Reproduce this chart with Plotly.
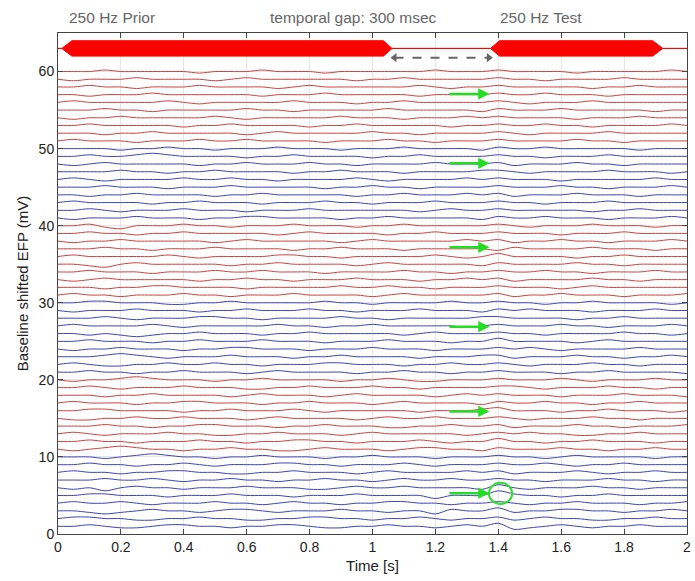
import plotly.graph_objects as go

# ---------------- data ----------------
efp_time = [0.00, 0.05, 0.10, 0.15, 0.20, 0.25, 0.30, 0.35, 0.40, 0.45,
            0.50, 0.55, 0.60, 0.65, 0.70, 0.75, 0.80, 0.85, 0.90, 0.95,
            1.00, 1.05, 1.10, 1.15, 1.20, 1.25, 1.30, 1.35, 1.40, 1.45,
            1.50, 1.55, 1.60, 1.65, 1.70, 1.75, 1.80, 1.85, 1.90, 1.95, 2.00]

dev_step_mv = 0.2  # deviations below are in steps of 0.2 mV

blue_01_10 = [
    [0,0,1,0,-1, -1,0,1,1,0, 0,-1,0,0,1, 1,0,-1,-1,0, 0,1,0,0,-1, 0,1,0,2,-2, -1,0,1,0,-1, 0,0,1,0,0, 0],
    [0,1,1,0,0, -1,-1,0,0,1, 0,0,-1,-1,0, 0,1,1,0,0, -1,0,0,1,0, -1,0,0,1,-1, 0,1,0,0,-1, -1,0,0,1,0, 0],
    [0,0,-1,-2,-1, 0,1,0,0,-1, 0,1,1,0,-1, 0,0,0,1,0, 0,-1,0,0,-2, 1,0,0,2,-1, 0,0,1,1,0, 0,-1,0,0,1, 0],
    [0,1,0,0,1, 0,-1,0,0,0, 1,0,0,-1,0, 1,0,0,-1,0, 0,1,1,0,0, -1,0,0,1,0, -1,0,0,1,0, 0,0,-1,0,0, 1],
    [0,0,1,1,0, 0,0,-1,0,0, 0,1,0,0,0, -1,0,0,0,1, 0,0,0,0,-2, 0,0,0,3,1, 0,0,-1,0,0, 1,0,0,0,0, 0],
    [0,-1,0,-2,0, 1,0,0,-1,0, 0,0,1,0,0, 0,-1,-1,0,1, 0,0,1,0,0, 0,0,-1,2,0, -1,0,0,0,1, 0,0,-1,0,0, 0],
    [0,0,0,1,0, 0,1,0,-1,0, 0,1,0,0,-1, 0,0,1,0,0, -1,0,1,0,0, 1,0,0,1,0, 0,-1,0,0,0, 1,0,0,-1,0, 0],
    [0,1,0,0,-1, 0,0,1,1,0, 0,-1,-1,0,0, 1,0,0,0,-1, 0,1,0,0,0, 0,1,0,1,-1, 0,0,0,1,0, -1,0,0,1,0, 0],
    [0,0,1,0,0, -1,0,0,1,0, -1,0,0,0,1, 1,0,0,-1,0, 0,0,1,0,-1, 0,0,0,1,0, 0,1,0,-1,0, 0,1,0,0,0, 0],
    [0,0,0,-1,0, 1,2,1,0,0, -1,0,0,1,0, 0,0,-1,0,0, 1,0,0,0,-1, 0,0,0,1,0, 0,-1,0,1,0, 0,0,0,-1,0, 0],
]
red_11_20 = [
    [0,-1,0,1,2, 1,0,0,-1,0, 0,1,0,0,-1, -1,0,1,0,0, 0,-1,0,1,1, 0,0,-1,1,0, 0,0,1,0,0, -1,0,0,1,0, 0],
    [0,0,1,0,0, -1,0,0,0,1, 0,0,-1,0,0, 1,1,0,0,-1, 0,0,0,1,0, -1,0,0,2,0, 0,-1,0,0,1, 0,0,0,-1,0, 0],
    [0,1,0,-1,0, 0,0,1,0,0, -1,-1,0,0,1, 0,0,0,-1,0, 1,0,0,0,0, 0,-1,0,1,0, 1,0,0,-1,-1, 0,0,1,0,0, 0],
    [0,0,0,1,0, 0,-1,0,0,1, 1,0,0,0,-1, 0,0,1,0,0, 0,-1,-1,0,0, 1,0,0,1,-1, 0,0,0,1,0, 0,-1,0,0,0, 1],
    [0,-1,-1,0,0, 1,0,0,1,0, 0,0,-1,0,1, 0,0,0,0,-1, 0,1,0,0,1, 0,0,0,1,0, -1,0,0,0,1, 0,0,-1,0,0, 0],
    [0,0,1,1,0, 0,0,0,-1,0, 0,1,0,0,0, 1,0,-1,0,0, 0,0,0,-1,0, 0,0,1,2,0, 0,0,-1,0,0, 1,0,0,0,-1, 0],
    [0,1,0,0,0, -1,0,0,1,1, 0,0,0,-1,0, 0,1,0,0,0, -1,0,1,0,0, 0,0,-1,1,0, 0,1,0,0,-1, 0,0,1,0,0, 0],
    [0,0,0,-1,0, 0,1,0,0,0, 0,-1,0,1,0, 0,0,-1,0,1, 0,0,0,0,-1, 0,1,0,1,0, 0,0,-1,0,0, 0,1,0,0,0, -1],
    [0,0,1,0,-1, 0,0,0,1,0, 0,0,-1,-1,0, 0,1,0,0,0, 1,0,0,-1,0, 0,0,0,1,1, 0,-1,0,0,0, 1,0,0,-1,0, 0],
    [0,-1,0,0,1, 2,1,0,0,0, -1,0,0,1,0, 0,0,0,-1,0, 0,1,0,-1,-1, 0,0,0,1,0, 0,0,1,0,-1, 0,0,0,1,0, 0],
]
blue_21_30 = [
    [0,0,1,0,0, -1,0,0,1,0, 0,0,-1,0,1, 0,0,0,0,-1, 0,0,1,0,0, -1,0,0,1,0, 0,0,-1,0,0, 1,0,0,0,0, -1],
    [0,1,0,-1,-1, 0,0,1,0,0, 1,0,0,-1,0, 0,0,1,1,0, 0,0,-1,0,0, 1,0,0,1,0, -1,0,0,0,1, 0,0,-1,0,0, 0],
    [0,0,0,1,2, 1,0,-1,0,0, 0,1,0,0,0, -1,0,0,1,0, 0,0,0,-1,0, 0,0,1,1,-1, 0,0,0,1,0, 0,-1,0,0,1, 0],
    [0,-1,0,0,1, 0,0,0,-1,0, 0,1,1,0,0, 0,-1,0,0,0, 1,0,0,0,-1, 0,0,0,1,0, 1,0,-1,0,0, 0,0,1,0,0, 0],
    [0,0,1,0,0, 0,-1,0,0,1, 0,0,0,1,0, 0,0,-1,0,0, 0,1,0,0,0, -1,0,0,2,0, 0,0,0,-1,0, 1,0,0,0,0, 0],
    [0,0,-1,0,-1, -2,-1,0,0,1, 0,0,0,-1,0, 0,1,0,0,0, 0,0,-1,0,1, 0,0,0,1,0, 0,-1,0,0,0, 0,1,0,0,-1, 0],
    [0,1,0,0,0, 0,1,0,-1,0, 0,0,0,0,1, 0,0,-1,0,0, 1,0,0,0,0, 0,-1,0,1,0, 0,0,1,0,0, -1,0,0,0,1, 0],
    [0,0,0,1,0, -1,0,0,0,1, 1,0,0,-1,0, 0,0,0,1,0, 0,-1,0,0,0, 0,0,1,1,0, 0,0,0,-1,0, 0,1,0,0,0, 0],
    [0,-1,0,0,0, 1,0,0,0,-1, 0,0,1,0,0, 0,1,0,0,-1, 0,0,0,1,0, 0,0,-1,1,0, 1,0,0,0,-1, 0,0,0,1,0, 0],
    [0,0,1,1,0, 0,0,-1,-1,0, 0,1,0,0,0, 0,0,1,0,0, -1,0,0,0,0, 1,0,0,1,0, 0,-1,0,0,1, 0,0,0,0,-1, 0],
]
red_31_40 = [
    [0,1,0,0,-1, 0,0,0,1,0, 0,-1,0,0,0, 1,0,0,0,0, -1,0,1,0,0, 0,0,0,1,-1, 0,0,1,0,0, 0,-1,0,0,0, 1],
    [0,0,0,-1,0, 0,1,1,0,0, 0,0,-1,0,0, 0,0,0,1,0, 0,1,0,0,-1, 0,0,0,1,0, 0,0,-1,0,1, 0,0,0,0,0, 0],
    [0,-1,0,1,0, 0,0,0,0,-1, 0,0,1,0,0, -1,0,0,0,1, 0,0,0,-1,0, 0,1,0,1,-1, 0,0,0,0,1, 0,0,-1,0,0, 0],
    [0,0,1,0,0, 0,-1,0,0,0, 1,0,0,1,0, 0,0,-1,0,0, 0,0,1,0,0, -1,0,0,1,0, 0,1,0,0,-1, 0,0,0,1,0, 0],
    [0,0,-1,-2,0, 1,0,0,0,0, 0,-1,0,0,1, 0,0,0,0,-1, 0,1,0,0,0, 0,0,-1,1,0, 0,0,0,1,0, 0,-1,0,0,0, 0],
    [0,1,0,0,0, 0,0,1,0,-1, 0,0,0,0,1, 1,0,0,-1,0, 0,0,0,0,1, 0,-1,0,2,0, 0,0,0,-1,0, 0,1,0,0,0, 0],
    [0,0,0,1,0, 0,-1,0,0,0, 1,0,0,0,0, -1,0,0,1,0, 0,0,-1,0,0, 0,0,0,-1,1, 0,0,0,0,1, 0,0,0,-1,0, 0],
    [0,-1,0,0,1, 0,0,0,0,0, -1,0,1,0,0, 0,0,0,-1,0, 1,0,0,0,0, 0,1,0,1,-1, 0,0,1,0,0, -1,0,0,0,1, 0],
    [0,0,1,0,0, -1,0,0,1,0, 0,0,0,0,-1, 0,1,0,0,0, 0,-1,0,0,1, 0,0,0,1,0, 0,0,-1,0,0, 0,1,0,0,0, 0],
    [0,0,1,-1,-2, 0,0,0,1,0, 0,-1,0,0,0, 1,0,0,0,-1, 0,0,1,0,0, 0,0,0,1,0, -1,0,0,0,1, 0,0,0,-1,0, 0],
]
blue_41_50 = [
    [0,-1,0,0,0, 1,0,0,0,-1, 0,0,1,1,0, 0,0,0,-1,0, 0,1,0,0,0, 0,0,-1,1,0, 0,1,0,0,0, -1,0,0,0,1, 0],
    [0,0,1,0,-1, 0,0,0,1,0, 0,0,-1,0,0, 0,1,0,0,0, 0,0,0,-1,0, 1,0,0,1,0, 0,0,0,0,-1, 0,0,1,0,0, 0],
    [0,1,0,0,0, 0,-1,0,0,1, 0,0,0,-1,0, 0,0,1,0,0, -1,0,0,0,1, 0,0,0,1,0, 0,-1,0,0,0, 1,0,0,0,0, 0],
    [0,0,-1,0,0, 1,0,0,0,0, -1,0,0,1,0, 0,0,0,0,-1, 0,0,1,0,0, 0,1,0,1,-1, 0,0,0,1,0, 0,0,-1,0,0, 0],
    [0,0,0,1,0, 0,0,-1,0,0, 0,1,0,0,0, 0,0,-1,0,0, 1,0,0,-1,0, 0,0,0,1,0, 0,0,1,0,0, -1,0,0,0,1, 0],
    [0,1,0,-1,0, 0,0,0,1,0, 0,1,0,0,-1, 0,0,0,0,1, 0,-1,0,0,0, 0,1,0,1,0, 0,0,-1,0,0, 0,0,0,1,0, 0],
    [0,0,0,0,1, 0,0,-1,0,0, 1,0,0,0,0, -1,0,0,1,0, 0,0,-1,0,0, 0,0,1,1,0, -1,0,0,0,0, 1,0,0,0,-1, 0],
    [0,-1,0,1,0, 0,0,0,0,-1, 0,0,1,0,0, 0,1,0,0,-1, 0,0,0,0,1, 0,0,0,1,-1, 0,0,0,1,0, 0,-1,0,0,0, 0],
    [0,0,1,0,0, 1,2,1,0,0, 0,0,-1,0,0, 1,0,0,0,0, -1,0,0,1,0, 0,0,0,1,0, 0,-1,0,0,0, 1,0,0,0,0, 0],
    [0,0,0,0,-1, 0,0,1,0,0, -1,0,0,0,1, 0,0,0,-1,0, 0,0,1,0,0, 0,0,-1,1,0, 0,1,0,0,0, 0,0,-1,0,0, 0],
]
red_51_60 = [
    [0,1,0,0,0, -1,0,0,0,1, 0,0,1,0,0, 0,0,-1,0,0, 0,1,0,0,-1, 0,0,0,1,0, 0,0,0,1,0, 0,-1,0,0,0, 0],
    [0,0,0,-1,0, 0,1,0,0,0, 0,0,-1,0,1, 0,0,0,0,0, 1,0,0,-1,0, 0,0,0,1,0, -1,0,0,0,0, 1,0,0,0,0, 0],
    [0,0,1,0,0, 0,0,0,-1,0, 0,1,0,0,0, 0,-1,0,0,1, 0,0,0,0,0, -1,0,0,1,0, 0,1,0,0,-1, 0,0,0,0,1, 0],
    [0,-1,0,0,1, 0,0,0,0,0, 1,0,-1,0,0, 0,0,0,1,0, 0,0,-1,0,0, 0,1,0,1,0, 0,0,0,-1,0, 0,0,1,0,0, 0],
    [0,0,0,1,0, 0,-1,0,0,0, 0,0,1,0,0, -1,0,0,0,0, 0,1,0,0,0, 0,0,-1,1,0, 0,0,1,0,0, 0,0,0,-1,0, 0],
    [0,1,0,0,0, 0,0,1,0,-1, 0,0,0,0,0, 1,0,0,0,-1, 0,0,1,0,0, 0,0,0,1,0, -1,0,0,0,1, 0,0,0,0,0, 0],
    [0,0,-1,0,0, 0,1,0,0,0, 0,0,0,-1,0, 0,0,1,0,0, 0,0,0,-1,0, 0,0,0,1,0, 0,1,0,0,0, -1,0,0,0,0, 0],
    [0,0,1,0,0, -1,0,0,0,1, 0,0,0,0,-1, 0,1,0,0,0, 0,0,0,1,0, -1,0,0,1,0, 0,0,0,0,-1, 0,0,1,0,0, 0],
    [0,-1,0,0,0, 1,0,0,0,0, -1,0,1,0,0, 0,0,0,0,-1, 0,0,1,0,0, 0,0,0,1,0, 0,-1,0,0,0, 0,1,0,0,0, 0],
    [0,0,0,1,0, 0,0,0,0,-1, 0,0,0,1,0, 0,0,-1,0,0, 0,0,0,0,1, 0,0,0,1,0, 0,0,0,-1,0, 0,0,0,0,1, 0],
]
trace_groups = [blue_01_10, red_11_20, blue_21_30, red_31_40, blue_41_50, red_51_60]
group_first_baseline = [1, 11, 21, 31, 41, 51]
group_is_red = [False, True, False, True, False, True]

# stimulus envelope (250 Hz tones) drawn around a 63 mV baseline
stim_center_mv = 63
stim_t = [0.0, 0.012, 0.044, 1.035, 1.062, 1.375, 1.404, 1.891, 1.923, 2.0]
stim_amp = [0, 0, 1.0, 1.0, 0, 0, 1.0, 1.0, 0, 0]

# annotation data
gap_arrow_x = [1.07, 1.37]
gap_arrow_y = 61.8
green_arrow_y = [57.1, 48.1, 37.2, 26.9, 15.9, 5.3]
green_arrow_x0 = 1.24
green_arrow_x1 = 1.372
circle_center = (1.407, 5.27)
circle_radius = (0.037, 1.37)
top_labels = ["250 Hz Prior", "temporal gap: 300 msec", "250 Hz Test"]
top_label_x = [0.172, 0.941, 1.536]

# ---------------- figure ----------------
RED = "rgb(205,65,65)"
BLUE = "rgb(65,65,185)"
fig = go.Figure()

for grp, base0, is_red in zip(trace_groups, group_first_baseline, group_is_red):
    for k, row in enumerate(grp):
        base = base0 + k
        fig.add_trace(go.Scatter(
            x=efp_time, y=[base + v * dev_step_mv for v in row],
            mode="lines", line=dict(color=RED if is_red else BLUE, width=1,
                                    shape="spline", smoothing=0.8),
            hoverinfo="skip", showlegend=False))

upper = [stim_center_mv + a for a in stim_amp]
lower = [stim_center_mv - a for a in stim_amp]
fig.add_trace(go.Scatter(
    x=stim_t + stim_t[::-1], y=upper + lower[::-1], mode="lines",
    fill="toself", fillcolor="#ff0000", line=dict(color="#ff0000", width=1),
    hoverinfo="skip", showlegend=False))

# gray dashed double arrow
fig.add_trace(go.Scatter(
    x=gap_arrow_x, y=[gap_arrow_y, gap_arrow_y], mode="lines",
    line=dict(color="#666666", width=2, dash="dash"),
    hoverinfo="skip", showlegend=False))
fig.add_trace(go.Scatter(
    x=gap_arrow_x, y=[gap_arrow_y, gap_arrow_y], mode="markers",
    marker=dict(symbol=["triangle-left", "triangle-right"], size=8, color="#666666"),
    hoverinfo="skip", showlegend=False))

for gy in green_arrow_y:
    fig.add_annotation(x=green_arrow_x1, y=gy, ax=green_arrow_x0, ay=gy,
                       xref="x", yref="y", axref="x", ayref="y",
                       showarrow=True, arrowhead=2, arrowsize=0.9, arrowwidth=2.5,
                       arrowcolor="#22dd22", text="")

cx, cy = circle_center
rx, ry = circle_radius
fig.add_shape(type="circle", xref="x", yref="y", x0=cx - rx, x1=cx + rx,
              y0=cy - ry, y1=cy + ry, line=dict(color="#33dd33", width=2))

for txt, tx in zip(top_labels, top_label_x):
    fig.add_annotation(x=tx, y=1.03, xref="x", yref="paper", text=txt,
                       showarrow=False, font=dict(size=15.5, color="#666666"),
                       xanchor="center", yanchor="middle")

axis_common = dict(showline=True, linecolor="#444444", linewidth=1, mirror="ticks",
                   ticks="inside", ticklen=5, tickcolor="#444444",
                   showgrid=True, gridcolor="#e6e6e6", gridwidth=1, zeroline=False,
                   tickfont=dict(size=14, color="#222222"), ticklabeloverflow="allow")
fig.update_xaxes(range=[0, 2], dtick=0.2, title=dict(text="Time [s]", font=dict(size=15, color="#222222"), standoff=6),
                 **axis_common)
fig.update_yaxes(range=[0, 65], tickvals=[0, 10, 20, 30, 40, 50, 60],
                 title=dict(text="Baseline shifted EFP (mV)", font=dict(size=15, color="#222222"), standoff=6),
                 **axis_common)
fig.update_layout(width=695, height=581, margin=dict(l=58, r=4, t=33, b=47),
                  paper_bgcolor="white", plot_bgcolor="white",
                  font=dict(family="Liberation Sans, Arial, sans-serif"))
fig.write_html("out.html")
